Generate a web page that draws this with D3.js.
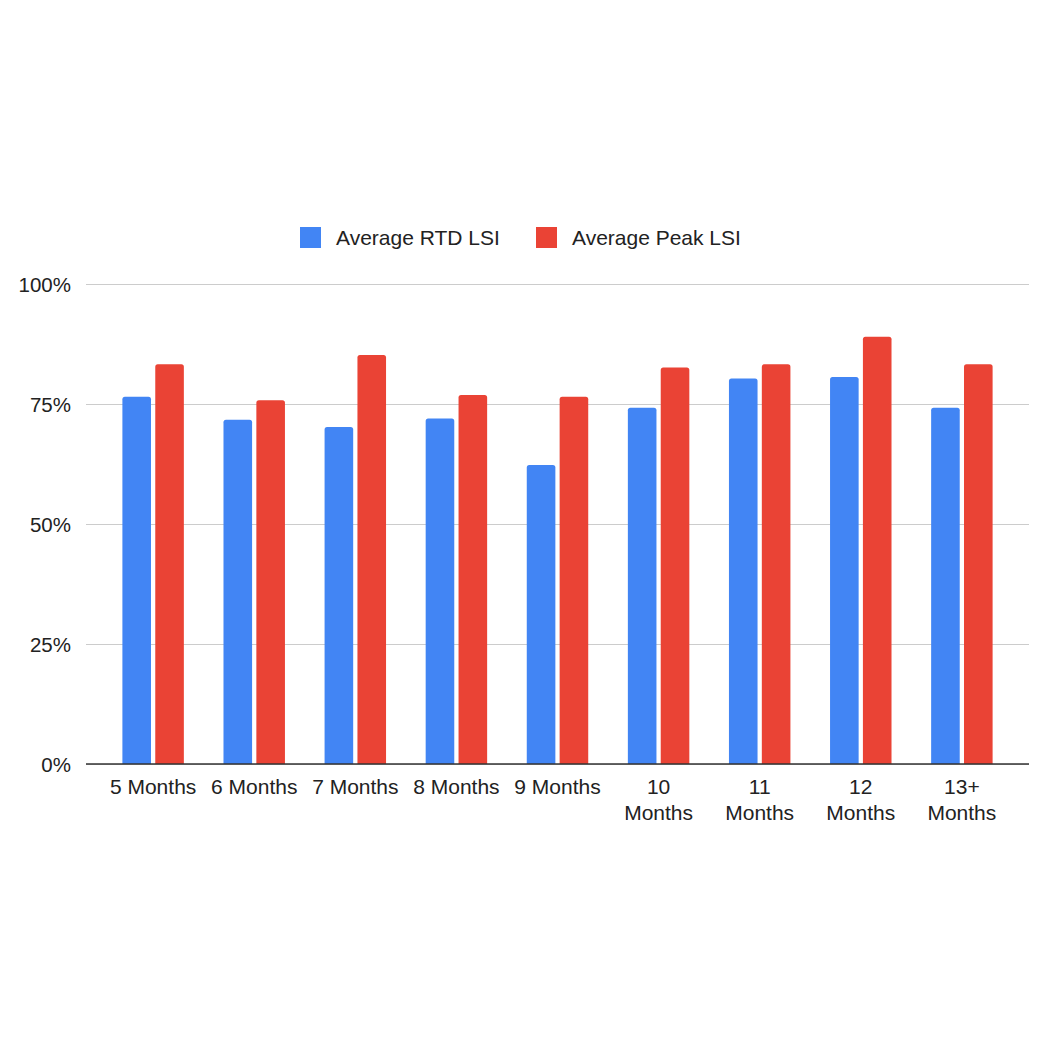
<!DOCTYPE html>
<html>
<head>
<meta charset="utf-8">
<script src="https://cdn.jsdelivr.net/npm/d3@7"></script>
<style>
    body { margin: 0; background: #fff; }
    text { font-family: "Liberation Sans", Arial, sans-serif; fill: #222; }
</style>
</head>
<body>
<svg id="chart"></svg>
<script>
// data
const categories = ["5 Months", "6 Months", "7 Months", "8 Months", "9 Months",
    "10 Months", "11 Months", "12 Months", "13+ Months"];
const seriesNames = ["Average RTD LSI", "Average Peak LSI"];
const rtdValues = [76.5, 71.7, 70.2, 72.0, 62.3, 74.2, 80.3, 80.6, 74.2];
const peakValues = [83.3, 75.8, 85.2, 76.9, 76.5, 82.6, 83.3, 89.0, 83.3];
const yTicks = [0, 25, 50, 75, 100];

const colors = ["#4285F4", "#EA4335"];

const width = 1063, height = 1063;
const margin = {top: 284, right: 34, bottom: 299, left: 86};
const plotW = width - margin.left - margin.right,
    plotH = height - margin.top - margin.bottom;

const svg = d3.select("#chart")
    .attr("width", width)
    .attr("height", height);

const g = svg.append("g")
    .attr("transform", "translate(" + margin.left + "," + margin.top + ")");

const xScale = d3.scaleBand()
    .domain(categories)
    .range([0, plotW])
    .paddingInner(0.392)
    .paddingOuter(0.36);

const xSub = d3.scaleBand()
    .domain(seriesNames)
    .range([0, xScale.bandwidth()])
    .paddingInner(0.13);

const yScale = d3.scaleLinear()
    .domain([0, 100])
    .range([plotH, 0]);

// gridlines
g.append("g")
    .attr("class", "grid")
    .call(d3.axisLeft(yScale)
        .tickValues(yTicks)
        .tickSize(-plotW)
        .tickFormat(""))
    .call(function (s) {
        s.select(".domain").remove();
        s.selectAll("line").attr("stroke", "#cccccc").attr("stroke-width", 1);
    });

// y labels
g.append("g")
    .attr("class", "y-axis")
    .call(d3.axisLeft(yScale)
        .tickValues(yTicks)
        .tickSize(0)
        .tickPadding(15)
        .tickFormat(function (d) { return d + "%"; }))
    .call(function (s) {
        s.select(".domain").remove();
        s.selectAll("text")
            .attr("font-size", "20.5px")
            .attr("font-family", "Liberation Sans, Arial, sans-serif")
            .attr("fill", "#222")
            .attr("dy", "0.35em");
    });

// bars with rounded tops
function barPath(x, y, w, h, r) {
    r = Math.min(r, h);
    return "M" + x + "," + (y + h) +
        "V" + (y + r) +
        "Q" + x + "," + y + " " + (x + r) + "," + y +
        "H" + (x + w - r) +
        "Q" + (x + w) + "," + y + " " + (x + w) + "," + (y + r) +
        "V" + (y + h) + "Z";
}

const rows = categories.map(function (c, i) {
    return {cat: c, values: [rtdValues[i], peakValues[i]]};
});

const groups = g.selectAll("g.cat")
    .data(rows)
    .enter()
    .append("g")
    .attr("class", "cat")
    .attr("transform", function (d) { return "translate(" + xScale(d.cat) + ",0)"; });

groups.selectAll("path")
    .data(function (d) {
        return d.values.map(function (v, j) { return {key: seriesNames[j], value: v, j: j}; });
    })
    .enter()
    .append("path")
    .attr("fill", function (d) { return colors[d.j]; })
    .attr("d", function (d) {
        const y = yScale(d.value);
        return barPath(xSub(d.key), y, xSub.bandwidth(), plotH - y, 2.5);
    });

// x axis
const xAxis = g.append("g")
    .attr("class", "x-axis")
    .attr("transform", "translate(0," + plotH + ")")
    .call(d3.axisBottom(xScale).tickSize(0).tickPadding(0));

xAxis.select(".domain")
    .attr("d", "M0,0H" + plotW)
    .attr("stroke", "#333")
    .attr("stroke-width", 1.5);

xAxis.selectAll(".tick text")
    .attr("font-size", "21px")
    .attr("font-family", "Liberation Sans, Arial, sans-serif")
    .attr("fill", "#222")
    .attr("dy", null)
    .attr("y", 30)
    .each(function (d) {
        const t = d3.select(this);
        if (this.getComputedTextLength() > xScale.step() * 0.93) {
            const words = d.split(" ");
            t.text(null);
            words.forEach(function (w, k) {
                t.append("tspan")
                    .attr("x", 0)
                    .attr("y", 30 + k * 26)
                    .text(w);
            });
        }
    });

// legend
const legend = svg.append("g")
    .attr("class", "legend");

const legendX = [300, 536];
seriesNames.forEach(function (name, i) {
    legend.append("rect")
        .attr("x", legendX[i])
        .attr("y", 227)
        .attr("width", 21)
        .attr("height", 21)
        .attr("fill", colors[i]);
    legend.append("text")
        .attr("x", legendX[i] + 36)
        .attr("y", 245)
        .attr("font-size", "21px")
        .text(name);
});
</script>
</body>
</html>
